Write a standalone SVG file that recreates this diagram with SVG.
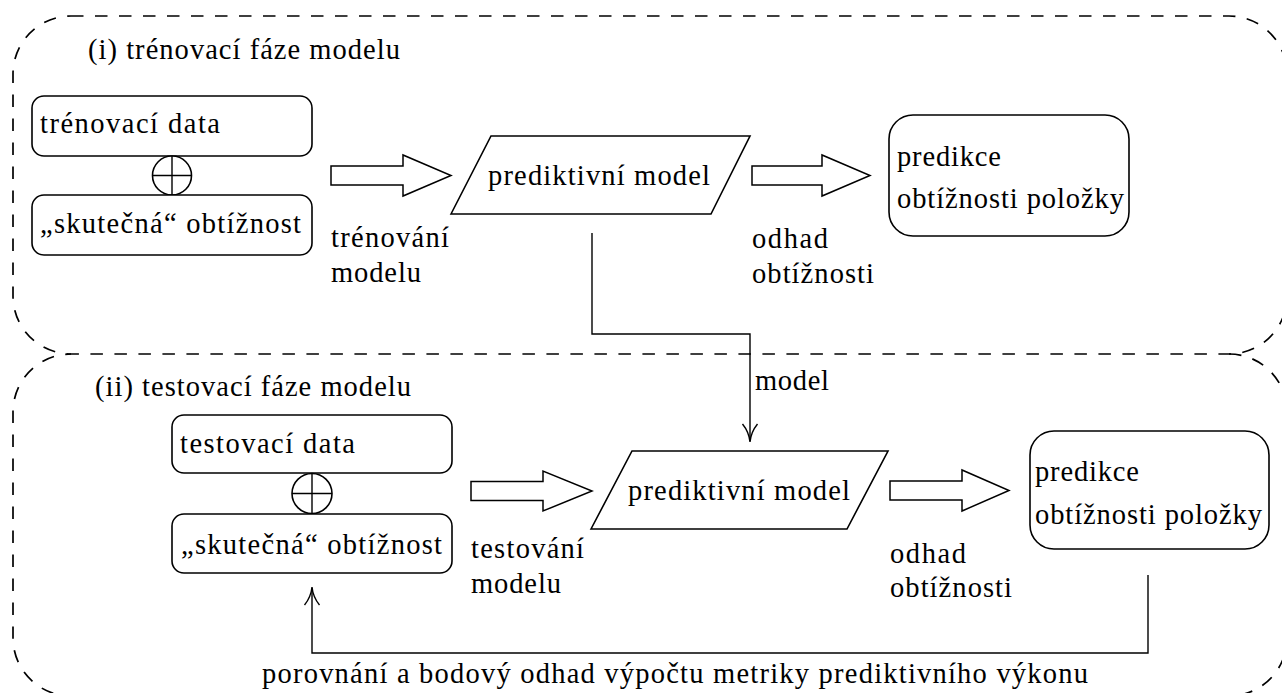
<svg xmlns="http://www.w3.org/2000/svg" width="1282" height="693" viewBox="0 0 1282 693">
<style>
text{font-family:'Liberation Serif','Times New Roman',serif;font-size:28.5px;fill:#000}
.n{fill:#fff;stroke:#000;stroke-width:1.6}
.ba{fill:#fff;stroke:#000;stroke-width:1.5;stroke-linejoin:miter}
.ds{fill:none;stroke:#000;stroke-width:1.7;stroke-dasharray:12.5 11.5}
.c{fill:none;stroke:#000;stroke-width:1.4}
</style>
<rect width="1282" height="693" fill="#fff"/>
<g id="phase-train">
  <rect class="ds" x="13" y="16" width="1274" height="338" rx="58"/>
  <text x="88" y="59" textLength="312">(i) trénovací fáze modelu</text>
</g>
<g id="phase-test">
  <path class="ds" d="M1229,354 A58,58 0 0 1 1287,412 V638 A58,58 0 0 1 1229,696 H71 A58,58 0 0 1 13,638 V412 A58,58 0 0 1 71,354"/>
  <text x="95" y="396" textLength="316">(ii) testovací fáze modelu</text>
</g>
<g id="train-data">
  <rect class="n" x="32" y="96" width="280" height="60" rx="12"/>
  <text x="40" y="133" textLength="180">trénovací data</text>
</g>
<g id="train-oplus">
  <circle class="n" cx="172" cy="175.5" r="19.5"/>
  <path class="c" d="M172,156 V195 M152.5,175.5 H191.5"/>
</g>
<g id="train-true">
  <rect class="n" x="32" y="195" width="280" height="60" rx="12"/>
  <text x="40" y="233" textLength="261">„skutečná“ obtížnost</text>
</g>
<g id="train-model">
  <polygon class="n" points="451,214 491,136 750,136 711,214"/>
  <text x="488" y="185" textLength="222">prediktivní model</text>
</g>
<g id="train-pred">
  <rect class="n" x="889" y="115" width="240" height="121" rx="24"/>
  <text x="897" y="166" textLength="104">predikce</text>
  <text x="897" y="208" textLength="227">obtížnosti položky</text>
</g>
<g id="test-data">
  <rect class="n" x="172" y="415" width="280" height="58" rx="12"/>
  <text x="180" y="453" textLength="175">testovací data</text>
</g>
<g id="test-oplus">
  <circle class="n" cx="312" cy="493.5" r="20"/>
  <path class="c" d="M312,473.5 V513.5 M292,493.5 H332"/>
</g>
<g id="test-true">
  <rect class="n" x="172" y="514" width="280" height="59" rx="12"/>
  <text x="181" y="554" textLength="261">„skutečná“ obtížnost</text>
</g>
<g id="test-model">
  <polygon class="n" points="591,529 632,451 888,451 847,529"/>
  <text x="628" y="500" textLength="222">prediktivní model</text>
</g>
<g id="test-pred">
  <rect class="n" x="1030" y="431" width="239" height="118" rx="24"/>
  <text x="1035" y="481" textLength="104">predikce</text>
  <text x="1035" y="524" textLength="227">obtížnosti položky</text>
</g>
<g id="connectors">
  <polygon class="ba" points="331,166 403,166 403,155 451,175.5 403,196 403,185 331,185"/>
  <polygon class="ba" points="752,166 822,166 822,155 870,175.5 822,196 822,185 752,185"/>
  <polygon class="ba" points="471,481.5 543,481.5 543,471 592,491 543,511 543,500.5 471,500.5"/>
  <polygon class="ba" points="890,481 962,481 962,470 1009,490.5 962,511 962,500 890,500"/>
  <path class="c" d="M592,233 V334 H750 V441"/>
  <path class="c" d="M742.5,424 Q749,432 750,442 Q751,432 757.5,424"/>
  <path class="c" d="M1148,575 V653 H312 V588"/>
  <path class="c" d="M304.5,605 Q311,597 312,587 Q313,597 319.5,605"/>
  <text x="331" y="247" textLength="118">trénování</text>
  <text x="331" y="282" textLength="90">modelu</text>
  <text x="752" y="248" textLength="76">odhad</text>
  <text x="752" y="283" textLength="122">obtížnosti</text>
  <text x="755" y="390" textLength="74">model</text>
  <text x="471" y="558" textLength="113">testování</text>
  <text x="471" y="593" textLength="90">modelu</text>
  <text x="890" y="563" textLength="76">odhad</text>
  <text x="890" y="597" textLength="122">obtížnosti</text>
  <text x="262" y="683" textLength="826">porovnání a bodový odhad výpočtu metriky prediktivního výkonu</text>
</g>
</svg>
